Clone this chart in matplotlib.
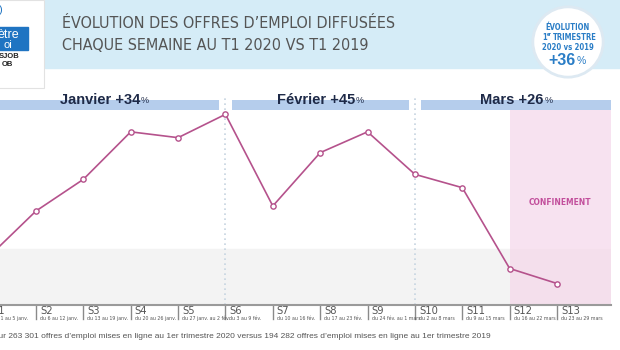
import numpy as np
import matplotlib
matplotlib.use('Agg')
import matplotlib.pyplot as plt
from matplotlib import font_manager
from matplotlib.font_manager import FontProperties
from matplotlib.patches import Rectangle, Circle

# données : offres d'emploi diffusées par semaine, T1 2020
semaines = ['S1', 'S2', 'S3', 'S4', 'S5', 'S6', 'S7',
            'S8', 'S9', 'S10', 'S11', 'S12', 'S13']
periodes = ['du 1 au 5 janv.', 'du 6 au 12 janv.', 'du 13 au 19 janv.',
            'du 20 au 26 janv.', 'du 27 janv. au 2 fév.', 'du 3 au 9 fév.',
            'du 10 au 16 fév.', 'du 17 au 23 fév.', 'du 24 fév. au 1 mars',
            'du 2 au 8 mars', 'du 9 au 15 mars', 'du 16 au 22 mars',
            'du 23 au 29 mars']
offres = [16150, 18900, 20800, 23650, 23300, 24700, 19200,
          22400, 23650, 21100, 20300, 15450, 14550]
mois = ['Janvier', 'Février', 'Mars']
mois_evol = ['+34', '+45', '+26']
mois_debut = [0, 5, 9]          # index de la 1re semaine de chaque mois
confinement_debut = 11          # S12
evol_trimestre = '+36'


def pick(names):
    have = set(f.name for f in font_manager.fontManager.ttflist)
    for n in names:
        if n in have:
            return n
    return 'DejaVu Sans'


def narrow_font(bold=False):
    # cherche une police condensée installée (Narrow / Condensed)
    cands = []
    for f in font_manager.fontManager.ttflist:
        key = (f.name + ' ' + f.fname).lower()
        if 'narrow' in key or 'condensed' in key or 'condensed' in str(f.stretch):
            if 'italic' in key or 'oblique' in key or f.style != 'normal':
                continue
            w = f.weight if isinstance(f.weight, int) else (700 if 'bold' in str(f.weight) else 400)
            cands.append((abs(w - (700 if bold else 400)), 'semi' in key, f.fname))
    if cands:
        cands.sort()
        return FontProperties(fname=cands[0][2])
    return FontProperties(family='DejaVu Sans', stretch='condensed',
                          weight='bold' if bold else 'normal')


NARROW = narrow_font(False)
NARROW_B = narrow_font(True)
SANS = pick(['Liberation Sans', 'Arial', 'DejaVu Sans'])


def nf(size, bold=False):
    p = (NARROW_B if bold else NARROW).copy()
    p.set_size(size)
    return p


W, H = 620, 350
fig = plt.figure(figsize=(6.2, 3.5), dpi=100)
fig.patch.set_facecolor('white')


def fx(px):
    return px / W


def fy(py):
    return 1 - py / H


# --- bandeau du haut
fig.patches.append(Rectangle((fx(45), fy(68)), fx(620 - 45), 68 / H,
                             transform=fig.transFigure, color='#d5ecf7', zorder=-2))
# logo (coupé à gauche)
fig.patches.append(Rectangle((fx(-2), fy(88)), fx(46), 88 / H, transform=fig.transFigure,
                             facecolor='white', edgecolor='#e2e2e2', lw=0.8, zorder=-1))
fig.patches.append(Rectangle((fx(-2), fy(50)), fx(30), 23 / H, transform=fig.transFigure,
                             color='#1f74c2', zorder=-1))
fig.text(fx(-3), fy(35), 'ètre', color='white', fontsize=9, family=SANS,
         va='center', ha='left')
fig.text(fx(4), fy(45), 'oi', color='white', fontsize=8, family=SANS,
         va='center', ha='left')
fig.text(fx(-1), fy(57), 'SJOB', color='#222222', fontsize=5.5, family=SANS,
         weight='bold', va='center', ha='left')
fig.text(fx(2), fy(64), 'OB', color='#222222', fontsize=5.5, family=SANS,
         weight='bold', va='center', ha='left')
fig.text(fx(-1), fy(10), ')', color='#1f74c2', fontsize=8, family=SANS,
         va='center', ha='left')

fig.text(fx(62), fy(24), 'ÉVOLUTION DES OFFRES D\u2019EMPLOI DIFFUSÉES',
         color='#555555', fontproperties=nf(11.5), va='center', ha='left')
fig.text(fx(62), fy(45), 'CHAQUE SEMAINE AU T1 2020 VS T1 2019',
         color='#555555', fontproperties=nf(11.5), va='center', ha='left')

# pastille
badge_ax = fig.add_axes([fx(531), fy(79), fx(74), 74 / H])
badge_ax.set_zorder(10)
badge_ax.set_xlim(-1, 1)
badge_ax.set_ylim(-1, 1)
badge_ax.set_aspect('equal')
badge_ax.axis('off')
badge_ax.add_patch(Circle((0, 0), 0.95, facecolor='white', edgecolor='#dde9f2', lw=2))
bc = '#2a7dc6'
badge_ax.text(0, 0.4, 'ÉVOLUTION', color=bc, fontproperties=nf(5.5, True),
              ha='center', va='center')
badge_ax.text(-0.58, 0.12, '1', color=bc, fontproperties=nf(5.5, True),
              ha='right', va='center')
badge_ax.text(-0.58, 0.2, 'er', color=bc, fontproperties=nf(3.3, True),
              ha='left', va='center')
badge_ax.text(-0.42, 0.12, 'TRIMESTRE', color=bc, fontproperties=nf(5.5, True),
              ha='left', va='center')
badge_ax.text(0, -0.15, '2020 vs 2019', color=bc, fontproperties=nf(5.5, True),
              ha='center', va='center')
badge_ax.text(0.2, -0.5, evol_trimestre, color=bc, fontsize=11.5, family=SANS,
              weight='bold', ha='right', va='center')
badge_ax.text(0.22, -0.5, '%', color=bc, fontsize=7.5, family=SANS,
              ha='left', va='center')

# --- graphique
ax = fig.add_axes([0, fy(305), 611 / W, 210 / H])
x = np.arange(len(offres))
xmin, xmax = 0.24, 13.14
ax.set_xlim(xmin, xmax)
ax.set_ylim(13260, 25860)
for s in ['top', 'right', 'left']:
    ax.spines[s].set_visible(False)
ax.spines['bottom'].set_color('#9a9a9a')
ax.spines['bottom'].set_linewidth(1.5)
ax.set_xticks([])
ax.set_yticks([])

tr = ax.get_xaxis_transform()

# bande grise basse
ax.axhspan(ax.get_ylim()[0], 16624, color='#f3f3f3', zorder=0)
# confinement
ax.add_patch(Rectangle((confinement_debut, 0), xmax - confinement_debut, 0.929,
                       transform=tr, facecolor='#f5d7ea', alpha=0.7, lw=0, zorder=1))
ax.text((confinement_debut + xmax) / 2, 0.486, 'CONFINEMENT', transform=tr,
        color='#c24f9c', fontproperties=nf(6, True), ha='center', va='center')

# séparateurs de mois + bandeaux
edges = mois_debut + [xmax]
gap = 0.13
labels = []
for k in range(len(mois)):
    a = edges[k] + (gap if k > 0 else 0)
    b = edges[k + 1] - (gap if k < len(mois) - 1 else 0)
    ax.add_patch(Rectangle((a, 0.929), b - a, 0.047, transform=tr,
                           color='#b5cdec', lw=0, zorder=2, clip_on=False))
    t = ax.text((a + b) / 2, 0.976, mois[k] + ' ' + mois_evol[k], transform=tr,
                color='#1e2a48', fontsize=10.5, family=SANS, weight='bold',
                ha='center', va='center', zorder=3)
    labels.append(t)
for k in mois_debut[1:]:
    ax.plot([k, k], [0, 1.0], transform=tr, color='#c6d4e0', lw=1.2,
            ls=(0, (1, 2)), zorder=1)

# % en petit après le nom du mois
fig.canvas.draw()
inv = ax.transData.inverted()
for t in labels:
    bb = t.get_window_extent()
    cx = inv.transform(((bb.x0 + bb.x1) / 2 - 4, 0))[0]
    t.set_position((cx, 0.976))
    bb = t.get_window_extent()
    xd = inv.transform((bb.x1 + 0.5, 0))[0]
    ax.text(xd, 0.973, '%', transform=tr, color='#1e2a48', fontsize=6.5,
            family=SANS, ha='left', va='center', zorder=3)

# courbe
ax.plot(x, offres, color='#b5528c', lw=1.2, marker='o', ms=3.8,
        mfc='white', mec='#b5528c', mew=1, zorder=5)

# étiquettes des semaines
for i in range(len(semaines)):
    ax.plot([i, i], [0, -0.065], transform=tr, color='#8a8a8a', lw=1,
            clip_on=False)
    xs = inv.transform(ax.transData.transform((i, 0)) + (4, 0))[0]
    ax.text(xs, -0.03, semaines[i], transform=tr, color='#555555',
            fontproperties=nf(8), ha='left', va='center', clip_on=False)
    ax.text(xs, -0.062, periodes[i], transform=tr, color='#555555',
            fontproperties=nf(3.8), ha='left', va='center', clip_on=False)

fig.text(fx(-6.5), fy(337),
         'Sur 263 301 offres d\u2019emploi mises en ligne au 1er trimestre 2020 versus '
         '194 282 offres d\u2019emploi mises en ligne au 1er trimestre 2019',
         color='#555555', fontsize=6.0, family=SANS, ha='left', va='center')

fig.savefig('out.png', dpi=100)
